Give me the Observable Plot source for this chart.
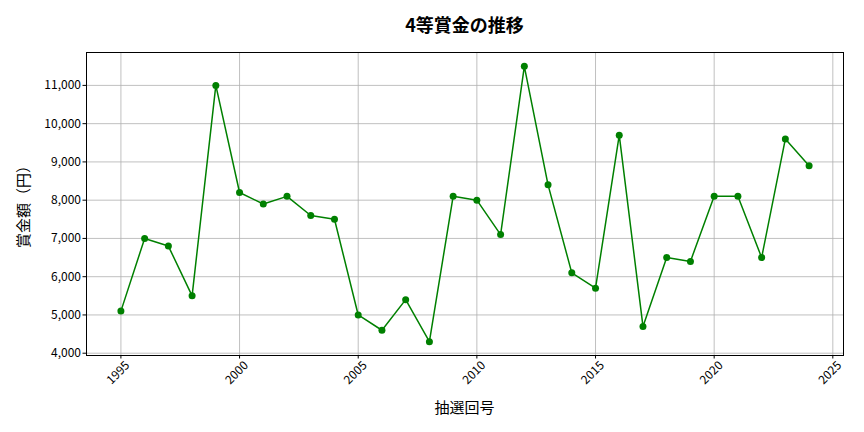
<!DOCTYPE html>
<html><head><meta charset="utf-8">
<script src="https://cdn.jsdelivr.net/npm/d3@7"></script>
<script src="https://cdn.jsdelivr.net/npm/@observablehq/plot@0.6"></script>
<style>
body{margin:0;background:#fff;font-family:"Noto Sans CJK JP","Noto Sans",sans-serif;}
#wrap{position:relative;width:864px;height:432px;}
#title{position:absolute;top:10px;left:0;width:929px;text-align:center;font-size:18px;font-weight:bold;line-height:28px;color:#000;}
#chart{position:absolute;top:40px;left:0;}
#xlabel{position:absolute;top:396px;left:0;width:929px;text-align:center;font-size:15px;color:#000;}
#ylabel{position:absolute;left:22px;top:203px;transform:translate(-50%,-50%) rotate(-90deg);font-size:15px;white-space:nowrap;color:#000;}
</style></head>
<body><div id="wrap"><div id="title">4等賞金の推移</div><div id="chart"></div><div id="xlabel">抽選回号</div><div id="ylabel">賞金額（円）</div></div>
<script>
const years = [1995,1996,1997,1998,1999,2000,2001,2002,2003,2004,2005,2006,2007,2008,2009,2010,2011,2012,2013,2014,2015,2016,2017,2018,2019,2020,2021,2022,2023,2024];
const prizes = [5100,7000,6800,5500,11000,8200,7900,8100,7600,7500,5000,4600,5400,4300,8100,8000,7100,11500,8400,6100,5700,9700,4700,6500,6400,8100,8100,6500,9600,8900];
const xTicks = [1995,2000,2005,2010,2015,2020,2025];
const yTicks = [4000,5000,6000,7000,8000,9000,10000,11000];
const data = years.map((y,i)=>({year:y, prize:prizes[i]}));
const chart = Plot.plot({
  width: 864, height: 392,
  marginLeft: 86, marginRight: 21, marginTop: 12, marginBottom: 77,
  style: {fontFamily: '"Noto Sans CJK JP","Noto Sans",sans-serif', fontSize: "12px", color: "#000", background: "#fff"},
  x: {domain: [1993.55, 2025.45], label: null},
  y: {domain: [3940, 11860], label: null},
  marks: [
    Plot.gridX(xTicks, {stroke: "#b0b0b0", strokeOpacity: 1, strokeWidth: 0.8}),
    Plot.gridY(yTicks, {stroke: "#b0b0b0", strokeOpacity: 1, strokeWidth: 0.8}),
    Plot.axisX(xTicks, {tickSize: 3.5, tickFormat: () => "", stroke: "#000", label: null}),
    Plot.text(xTicks, {x: d => d, frameAnchor: "bottom", dy: 20, rotate: -45, textAnchor: "middle", text: d => String(d), fontSize: 12, fill: "#000"}),
    Plot.axisY(yTicks, {tickSize: 3.5, tickPadding: 2, tickFormat: d3.format(","), fontSize: 12, stroke: "#000", fill: "#000", label: null}),
    Plot.line(data, {x: "year", y: "prize", stroke: "#008000", strokeWidth: 1.5}),
    Plot.dot(data, {x: "year", y: "prize", fill: "#008000", r: 3.5}),
    Plot.frame({stroke: "#000", strokeWidth: 1})
  ]
});
document.getElementById("chart").appendChild(chart);
</script></body></html>
